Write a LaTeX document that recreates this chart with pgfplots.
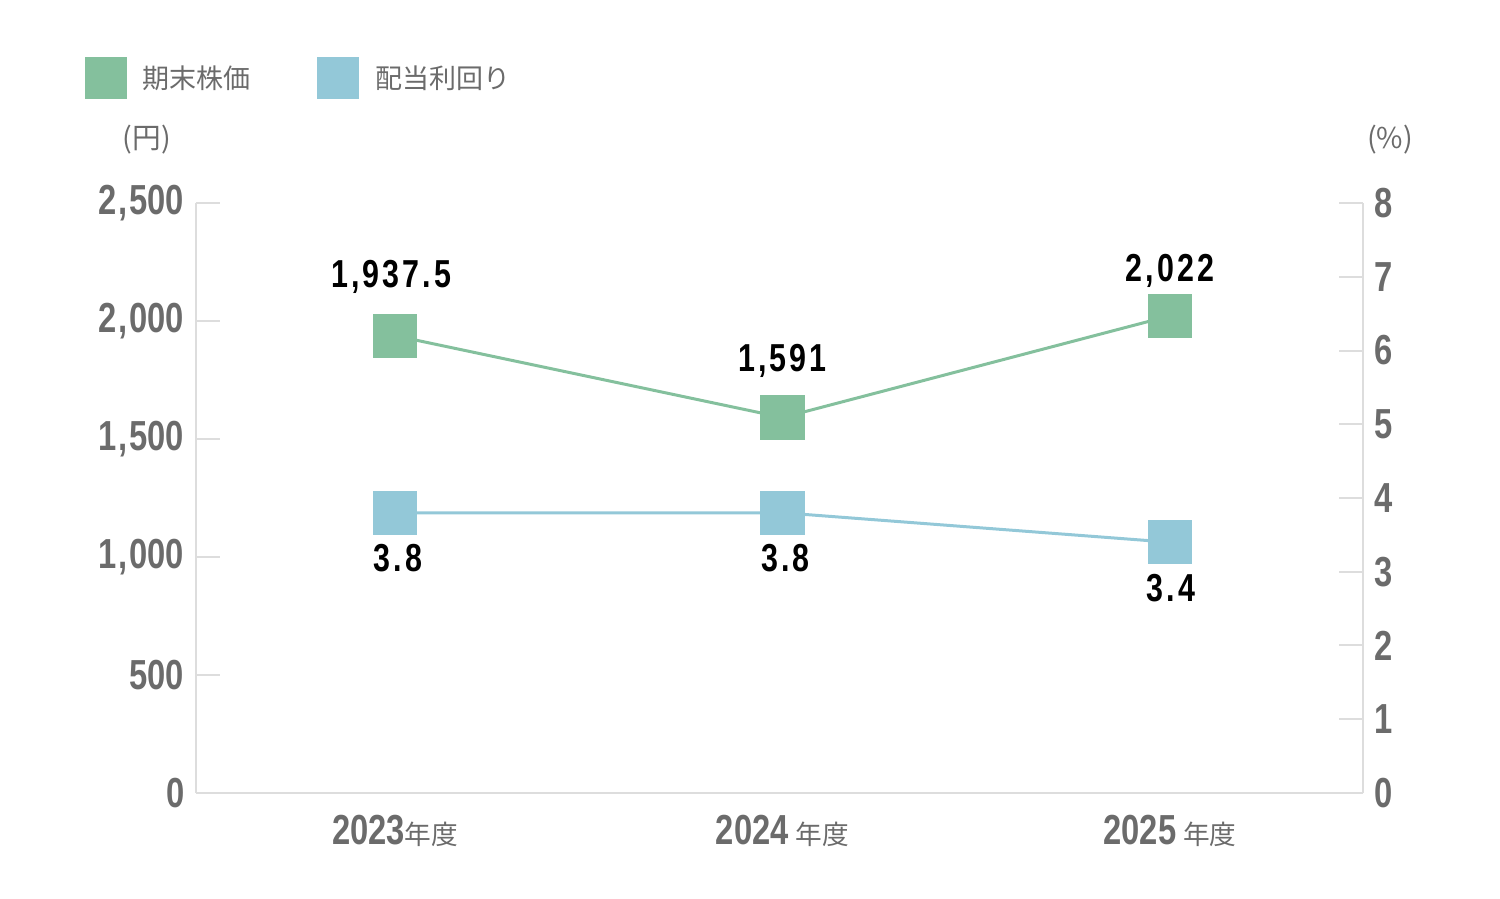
\documentclass[border=0pt]{standalone}
\usepackage{pgfplots}
\pgfplotsset{compat=1.18}
\usepackage{fontspec}
\setmainfont{Liberation Sans}
\newfontfamily\numfont[FakeStretch=0.78]{Liberation Sans Bold}
\newfontfamily\lblfont[FakeStretch=0.78,LetterSpace=8]{Liberation Sans Bold}
\newfontfamily\jp{Noto Sans CJK JP}

\definecolor{stockgreen}{HTML}{84C09D}
\definecolor{yieldblue}{HTML}{93C8D8}
\definecolor{axisgray}{HTML}{DDDDDD}
\definecolor{tickgray}{HTML}{6B6B6B}

\newcommand{\axfont}{\numfont\fontsize{12.6}{14}\selectfont}
\newcommand{\datanum}{\lblfont\fontsize{11.7}{13}\selectfont}
\newcommand{\yr}[1]{{\axfont #1}{\jp\fontsize{8}{10}\selectfont 年度}}

\begin{document}
\begin{tikzpicture}
\useasboundingbox (-58.8pt,-31.8pt) rectangle (391.2pt,237.9pt);

% left axis: share price
\begin{axis}[
    at={(0,0)}, anchor=south west,
    scale only axis, width=350.1pt, height=177pt,
    xmin=-0.514, xmax=2.498,
    ymin=0, ymax=2500,
    axis x line*=bottom, axis y line*=left,
    axis line style={draw=axisgray, line width=0.6pt},
    xtick={0,1,2},
    xticklabels={\yr{2023}, \yr{2024\,}, \yr{2025\,}},
    xtick style={draw=none},
    xticklabel style={text=tickgray, yshift=-3pt},
    ytick={0,500,1000,1500,2000,2500},
    ytick style={draw=axisgray, line width=0.6pt},
    major tick length=7.2pt, tick align=inside,
    yticklabel style={font=\axfont, text=tickgray},
    /pgf/number format/.cd, 1000 sep={\kern0.6pt,\kern0.6pt}, assume math mode=true,
]
\addplot[color=stockgreen, line width=0.9pt, mark=square*,
    mark size=6.2pt, mark options={fill=stockgreen, draw=stockgreen}]
    coordinates {(0,1937.5) (1,1591) (2,2022)};
\node[font=\datanum, yshift=17.7pt, xshift=-1.2pt] at (axis cs:0,1937.5) {1,937.5};
\node[font=\datanum, yshift=17.1pt] at (axis cs:1,1591) {1,591};
\node[font=\datanum, yshift=13.5pt] at (axis cs:2,2022) {2,022};
\end{axis}

% right axis: dividend yield
\begin{axis}[
    at={(0,0)}, anchor=south west,
    scale only axis, width=350.1pt, height=177pt,
    xmin=-0.514, xmax=2.498,
    ymin=0, ymax=8,
    axis x line=none, axis y line*=right,
    axis line style={draw=axisgray, line width=0.6pt},
    ytick={0,1,...,8},
    ytick style={draw=axisgray, line width=0.6pt},
    major tick length=7.2pt, tick align=inside,
    yticklabel style={font=\axfont, text=tickgray},
    /pgf/number format/.cd, assume math mode=true,
]
\addplot[color=yieldblue, line width=0.9pt, mark=square*,
    mark size=6.2pt, mark options={fill=yieldblue, draw=yieldblue}]
    coordinates {(0,3.8) (1,3.8) (2,3.4)};
\node[font=\datanum, yshift=-13.5pt, xshift=0.9pt] at (axis cs:0,3.8) {3.8};
\node[font=\datanum, yshift=-13.5pt, xshift=0.9pt] at (axis cs:1,3.8) {3.8};
\node[font=\datanum, yshift=-13.8pt, xshift=0.3pt] at (axis cs:2,3.4) {3.4};
\end{axis}

% legend
\fill[stockgreen] (-33.3pt,208.2pt) rectangle (-20.7pt,220.8pt);
\node[anchor=west, inner sep=0pt, text=tickgray, font=\jp\fontsize{8.1}{10}\selectfont]
    at (-16.2pt,214.5pt) {期末株価};
\fill[yieldblue] (36.3pt,208.2pt) rectangle (48.9pt,220.8pt);
\node[anchor=west, inner sep=0pt, text=tickgray, font=\jp\fontsize{8.1}{10}\selectfont]
    at (53.7pt,214.5pt) {配当利回り};

% units
\node[text=tickgray, font=\jp\fontsize{8.6}{10}\selectfont] at (-14.7pt,195.9pt) {(円)};
\node[text=tickgray, font=\jp\fontsize{8.6}{10}\selectfont] at (358.2pt,195.9pt) {(\%)};
\end{tikzpicture}
\end{document}
